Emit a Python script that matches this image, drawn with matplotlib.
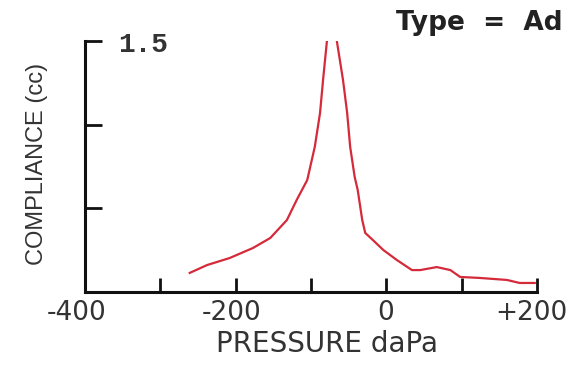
import matplotlib
matplotlib.use("Agg")
import matplotlib.pyplot as plt
from matplotlib.transforms import ScaledTranslation

# Data
pressure = [-261, -238, -208, -177, -154, -132, -119, -105, -95, -88, -84, -79,
            -74, -65.5, -57.5, -52, -48, -42, -38, -32, -28, -18, -4, 14, 34, 45,
            67, 85, 98, 124, 160, 177, 197]
compliance = [0.114, 0.161, 0.203, 0.263, 0.323, 0.430, 0.550, 0.669, 0.867, 1.07, 1.267, 1.494,
              1.73, 1.494, 1.267, 1.07, 0.867, 0.687, 0.61, 0.43, 0.353, 0.311, 0.251, 0.191, 0.131, 0.131,
              0.149, 0.131, 0.090, 0.084, 0.072, 0.054, 0.054]

xticks = [-400, -300, -200, -100, 0, 100, 200]
xticklabels = ["-400", "", "-200", "", "0", "", "+200"]
yticks = [0.5, 1.0, 1.5]

W, H = 586, 375
fig = plt.figure(figsize=(W / 100, H / 100), dpi=100)
fig.patch.set_facecolor("white")

left, right, bottom, top = 85, 537, 292, 41
ax = fig.add_axes([left / W, 1 - bottom / H, (right - left) / W, (bottom - top) / H])
ax.plot(pressure, compliance, color="#d42a3a", lw=1.6)
ax.set_xlim(-400, 200)
ax.set_ylim(0, 1.5)

for s in ["top", "right"]:
    ax.spines[s].set_visible(False)
for s in ["left", "bottom"]:
    ax.spines[s].set_linewidth(2.2)
    ax.spines[s].set_color("#111111")

ax.set_xticks(xticks)
ax.set_xticklabels(xticklabels, fontsize=19, color="#333333", family="DejaVu Sans")
ax.set_yticks(yticks)
ax.set_yticklabels([])
ax.tick_params(axis="x", direction="in", length=10, width=2, color="#111111", pad=6)
ax.tick_params(axis="y", direction="in", length=12, width=2, color="#111111")

# small horizontal offsets of the tick labels as in the original print
shifts_px = [-8, 0, -4, 0, -1, 0, -6]
for lbl, dx in zip(ax.get_xticklabels(), shifts_px):
    lbl.set_transform(lbl.get_transform() + ScaledTranslation(dx / 100, 0, fig.dpi_scale_trans))

fig.text(118 / W, 1 - 52 / H, "1.5", fontsize=20, family="Liberation Mono", fontweight="bold",
         color="#333333", ha="left", va="baseline")
fig.text(563 / W, 1 - 30 / H, "Type  =  Ad", fontsize=19, fontweight="bold",
         family="DejaVu Sans", color="#222222", ha="right", va="baseline")
fig.text(327 / W, 1 - 352 / H, "PRESSURE daPa", fontsize=20, family="DejaVu Sans",
         color="#333333", ha="center", va="baseline")
fig.text(37 / W, 1 - 164 / H, "COMPLIANCE (cc)", fontsize=17, family="Liberation Sans",
         color="#333333", ha="center", va="center", rotation=90)

fig.savefig("out.png", dpi=100, facecolor="white")
